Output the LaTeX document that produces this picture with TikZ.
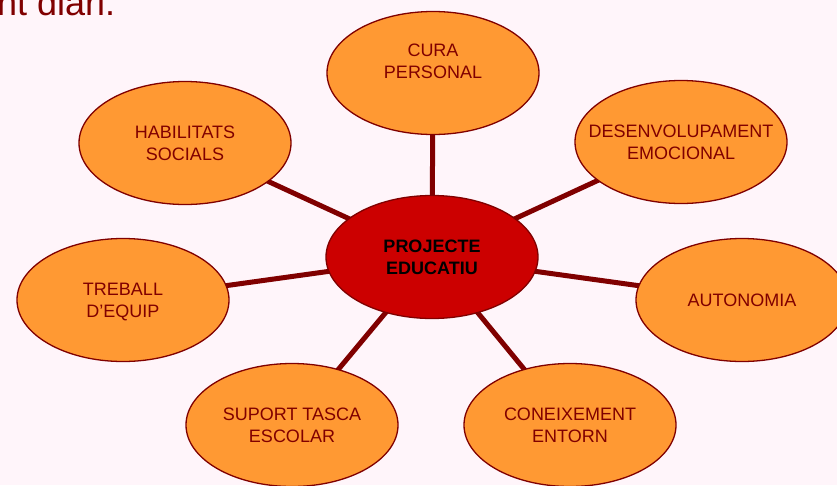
\documentclass[tikz,border=0pt]{standalone}
\usepackage{fontspec}
\setmainfont{Liberation Sans}
\usetikzlibrary{shapes.geometric}
\definecolor{bg}{RGB}{255,245,250}
\definecolor{orfill}{RGB}{255,153,51}
\definecolor{cred}{RGB}{204,0,0}
\definecolor{dred}{RGB}{128,0,0}
\newcommand{\bubbletext}[1]{\raisebox{-2pt}[\height][\depth]{\makebox[0pt]{\begin{tabular}{@{}c@{}}#1\end{tabular}}}}
\tikzset{
  bubble/.style={ellipse, draw=dred, line width=1.3pt, fill=orfill,
    minimum width=212pt, minimum height=123pt, inner sep=0pt,
    text=dred, font=\fontsize{18}{22}\selectfont},
  hub/.style={bubble, fill=cred, text=black, font=\fontsize{18}{22}\selectfont\bfseries},
  spoke/.style={draw=dred, line width=5pt},
  plaintext/.style={inner sep=0pt, text=dred, font=\fontsize{18}{22}\selectfont}
}
\begin{document}
\begin{tikzpicture}[x=1pt,y=-1pt]
\clip (0,0) rectangle (837,485);
\fill[bg] (0,0) rectangle (837,485);
\node[anchor=base west, inner sep=0pt, text=dred, font=\fontsize{36}{40}\selectfont] (title) at (-3,15) {nt diari.};
% centres
\coordinate (c0) at (432,257);
\coordinate (c1) at (433,73);
\coordinate (c2) at (185,143);
\coordinate (c3) at (681,142);
\coordinate (c4) at (742,300);
\coordinate (c5) at (123,300);
\coordinate (c6) at (292,425);
\coordinate (c7) at (570,425);
% spokes
\foreach \i in {1,...,7} { \draw[spoke] (c0) -- (c\i); }
\node[hub] (hub) at (c0) {\bubbletext{PROJECTE\\EDUCATIU}};
\node[bubble] (cura) at (c1) {};
\node[plaintext] (curatext) at (433,61) {\bubbletext{CURA\\PERSONAL}};
\node[bubble] (hab) at (c2) {\bubbletext{HABILITATS\\SOCIALS}};
\node[bubble] (des) at (c3) {\bubbletext{DESENVOLUPAMENT\\EMOCIONAL}};
\node[bubble] (aut) at (c4) {\bubbletext{AUTONOMIA}};
\node[bubble] (tre) at (c5) {\bubbletext{TREBALL\\D’EQUIP}};
\node[bubble] (sup) at (c6) {\bubbletext{SUPORT TASCA\\ESCOLAR}};
\node[bubble] (con) at (c7) {\bubbletext{CONEIXEMENT\\ENTORN}};
\end{tikzpicture}
\end{document}
